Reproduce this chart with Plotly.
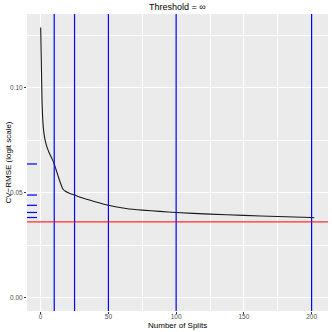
import numpy as np
import plotly.graph_objects as go

# Curve: CV-RMSE vs number of splits
splits = [0, 1, 2, 3, 4, 5, 6, 7, 8, 9, 10, 11, 12, 13, 14, 15, 16, 17, 18, 20,
          22, 25, 30, 36, 43, 50, 63, 75, 88, 100, 125, 150, 175, 200, 202]
cv_rmse = [0.1286, 0.0930, 0.0805, 0.0758, 0.0731, 0.0710, 0.0693, 0.0679, 0.0666,
           0.0652, 0.0636, 0.0616, 0.0596, 0.0576, 0.0556, 0.0538, 0.0522, 0.0512,
           0.0507, 0.0500, 0.0494, 0.0488, 0.0476, 0.0464, 0.0451, 0.0439, 0.0424,
           0.0416, 0.0410, 0.0405, 0.0397, 0.0391, 0.0386, 0.0381, 0.0380]

marked_splits = [10, 25, 50, 100, 200]
reference_rmse = 0.0360

x_ticks = [0, 50, 100, 150, 200]
y_ticks = [0.00, 0.05, 0.10]
y_tick_labels = ["0.00", "0.05", "0.10"]

title_text = "Threshold = ∞"
x_title = "Number of Splits"
y_title = "CV−RMSE (logit scale)"

marked_values = np.interp(marked_splits, splits, cv_rmse)

x_lo, x_hi = min(splits), max(splits)
x_pad = 0.05 * (x_hi - x_lo)
y_lo, y_hi = 0.0, max(cv_rmse)
y_pad = 0.05 * (y_hi - y_lo)

W, H = 332, 332
ML, MR, MT, MB = 27, 4, 14, 21
PW, PH = W - ML - MR, H - MT - MB

fig = go.Figure()
fig.add_trace(go.Scatter(x=splits, y=cv_rmse, mode="lines",
                         line=dict(color="#1a1a1a", width=1.1, shape="spline", smoothing=0.4),
                         showlegend=False, hoverinfo="skip"))

shapes = []
for s in marked_splits:
    shapes.append(dict(type="line", xref="x", yref="paper", x0=s, x1=s, y0=0, y1=1,
                       line=dict(color="#0000FF", width=1.2), layer="above"))
rug_len = 10 / PW
for v in marked_values:
    shapes.append(dict(type="line", xref="paper", yref="y", x0=0, x1=rug_len, y0=v, y1=v,
                       line=dict(color="#0000FF", width=1.2), layer="above"))
shapes.append(dict(type="line", xref="paper", yref="y", x0=0, x1=1,
                   y0=reference_rmse, y1=reference_rmse,
                   line=dict(color="#FF0000", width=1), layer="above"))

annotations = [
    dict(text=title_text, xref="paper", yref="paper", x=0.5, y=(H - MB - 7) / PH,
         xanchor="center", yanchor="middle", showarrow=False,
         font=dict(size=9, color="black")),
    dict(text=x_title, xref="paper", yref="paper", x=0.5, y=-(325 - (H - MB)) / PH,
         xanchor="center", yanchor="middle", showarrow=False,
         font=dict(size=8, color="black")),
    dict(text=y_title, xref="paper", yref="paper", x=(8 - ML) / PW, y=0.5,
         xanchor="center", yanchor="middle", showarrow=False, textangle=-90,
         font=dict(size=8, color="black")),
]

fig.update_layout(
    width=W, height=H,
    margin=dict(l=ML, r=MR, t=MT, b=MB, autoexpand=False),
    paper_bgcolor="white", plot_bgcolor="#EBEBEB",
    font=dict(family="Liberation Sans, Arial, sans-serif", color="black"),
    shapes=shapes,
    annotations=annotations,
    xaxis=dict(range=[x_lo - x_pad, x_hi + x_pad], tickvals=x_ticks,
               ticks="outside", ticklen=2, tickcolor="#333333", tickwidth=1,
               tickfont=dict(size=6.5, color="#4D4D4D"), ticklabelstandoff=-3,
               showgrid=True, gridcolor="white", gridwidth=1,
               minor=dict(dtick=25, tick0=0, showgrid=True, gridcolor="white",
                          gridwidth=0.5, ticks=""),
               zeroline=False, showline=False, automargin=False),
    yaxis=dict(range=[y_lo - y_pad, y_hi + y_pad], tickvals=y_ticks, ticktext=y_tick_labels,
               ticks="outside", ticklen=2, tickcolor="#333333", tickwidth=1,
               tickfont=dict(size=6.5, color="#4D4D4D"),
               showgrid=True, gridcolor="white", gridwidth=1,
               minor=dict(dtick=0.025, tick0=0, showgrid=True, gridcolor="white",
                          gridwidth=0.5, ticks=""),
               zeroline=False, showline=False, automargin=False),
)

fig.write_html("out.html", config={"displayModeBar": False},
               post_script="document.body.style.margin='0';document.body.style.overflow='hidden';")
